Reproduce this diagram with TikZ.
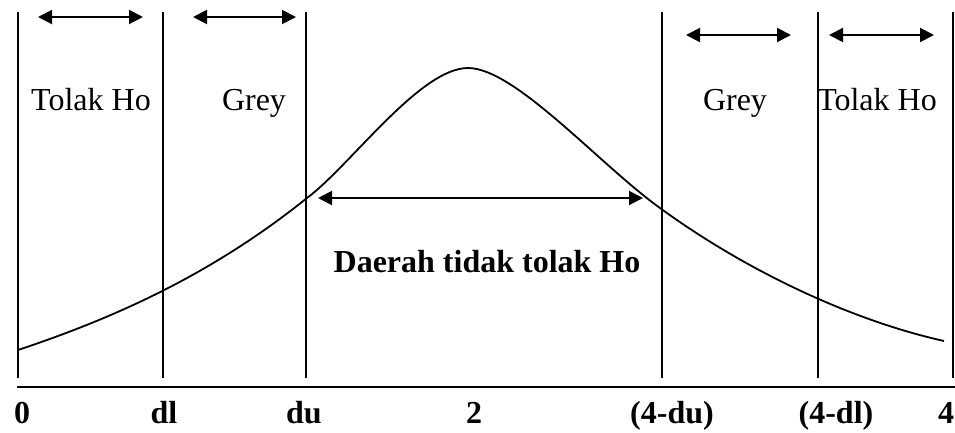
\documentclass[tikz,border=0pt]{standalone}
\usepackage{fontspec}
\setmainfont{Liberation Serif}
\usetikzlibrary{arrows.meta}
\begin{document}
\begin{tikzpicture}[x=1pt,y=-1pt,
  vline/.style={line width=1.6pt},
  dbl/.style={line width=2pt,{Triangle[length=14pt,width=14pt]}-{Triangle[length=14pt,width=14pt]}},
  lbl/.style={font=\fontsize{32}{36}\selectfont,anchor=base,inner sep=0pt},
  blbl/.style={font=\fontsize{32}{36}\selectfont\bfseries,anchor=base,inner sep=0pt}]
\useasboundingbox (0,0) rectangle (955,432);
% vertical lines
\foreach \n/\x in {a/18,b/163,c/306,d/662,e/818,f/953}{
  \coordinate (\n t) at (\x,12);
  \coordinate (\n b) at (\x,378);
  \draw[vline] (\n t) -- (\n b);
}
% axis
\coordinate (ax1) at (17,387);
\coordinate (ax2) at (955,387);
\draw[line width=2.6pt] (ax1) -- (ax2);
% curve
\coordinate (c0) at (18,350);
\coordinate (c1) at (307,198);
\coordinate (c2) at (468,68);
\coordinate (c3) at (660,208);
\coordinate (c4) at (944,341);
\draw[line width=1.8pt] (c0) .. controls (114,318) and (211,275) .. (c1)
  .. controls (350,166) and (420,68) .. (c2)
  .. controls (515,68) and (600,165) .. (c3)
  .. controls (745,270) and (850,320) .. (c4);
% top arrows
\coordinate (p1) at (38,17);  \coordinate (p2) at (143,17);
\coordinate (p3) at (193,17); \coordinate (p4) at (296,17);
\coordinate (p5) at (686,35); \coordinate (p6) at (791,35);
\coordinate (p7) at (829,35); \coordinate (p8) at (934,35);
\draw[dbl] (p1) -- (p2);
\draw[dbl] (p3) -- (p4);
\draw[dbl] (p5) -- (p6);
\draw[dbl] (p7) -- (p8);
% middle arrow
\coordinate (m1) at (318,198); \coordinate (m2) at (643,198);
\draw[dbl] (m1) -- (m2);
% region labels
\node[lbl] (t1) at (91,110) {Tolak Ho};
\node[lbl] (g1) at (254,110) {Grey};
\node[lbl] (g2) at (735,110) {Grey};
\node[lbl] (t2) at (877,110) {Tolak Ho};
\node[blbl] (dt) at (487,272) {Daerah tidak tolak Ho};
% axis labels
\node[blbl] (l0) at (22,423) {0};
\node[blbl] (l1) at (164,423) {dl};
\node[blbl] (l2) at (304,423) {du};
\node[blbl] (l3) at (474,423) {2};
\node[blbl] (l4) at (672,423) {(4-du)};
\node[blbl] (l5) at (836,423) {(4-dl)};
\node[blbl] (l6) at (946,423) {4};
\end{tikzpicture}
\end{document}
